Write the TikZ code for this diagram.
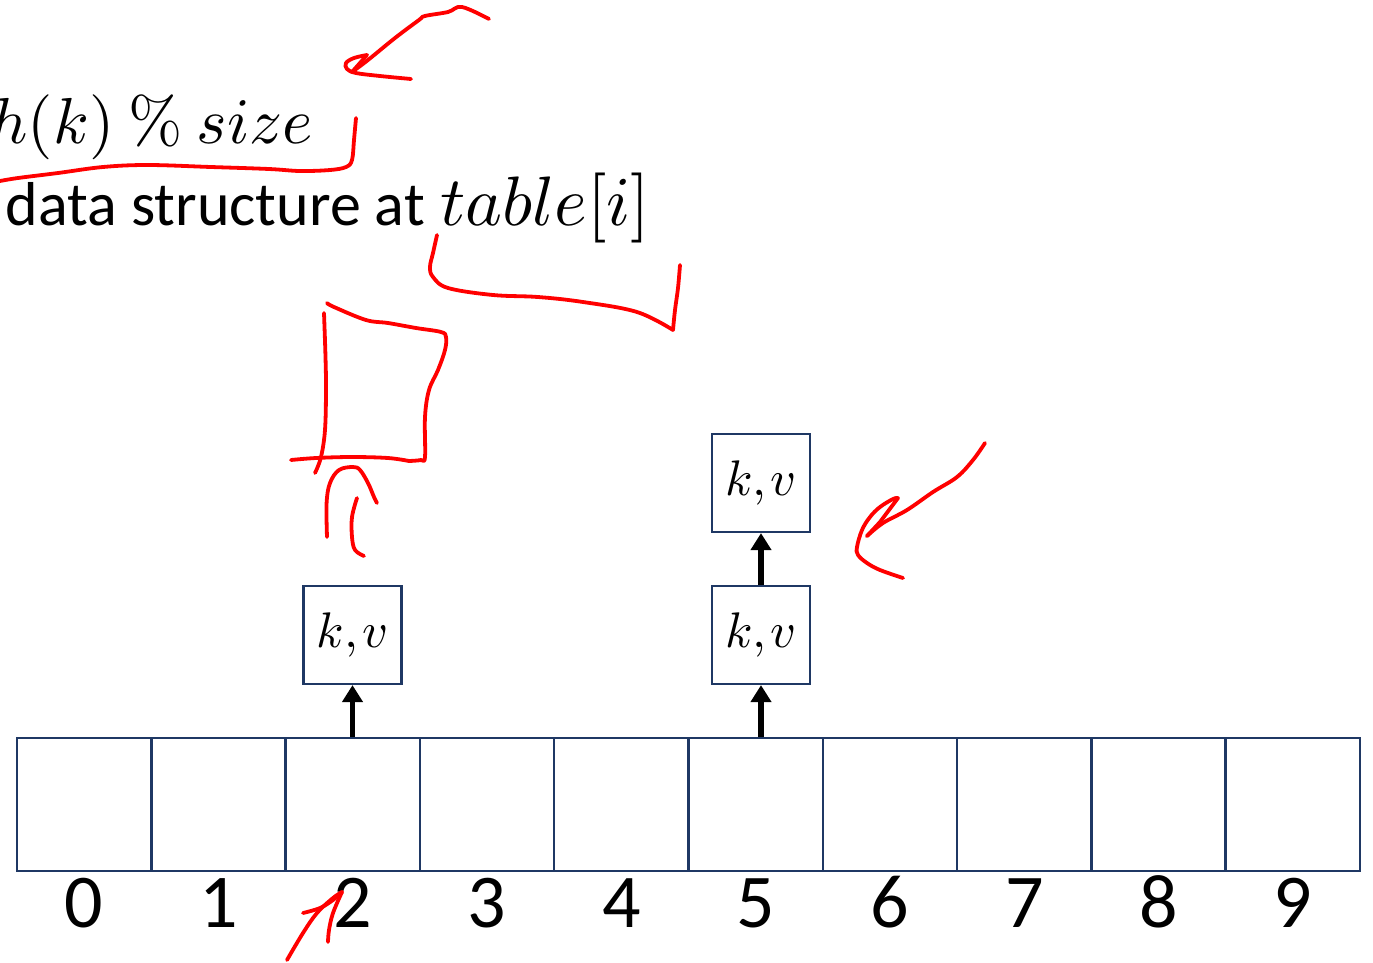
\documentclass[tikz,border=0pt]{standalone}
\usepackage[no-math]{fontspec}
\newfontfamily\calibri{Carlito}
\usetikzlibrary{arrows.meta}
\DeclareFontFamily{OML}{bigcmm}{\skewchar\font'177}
\DeclareFontShape{OML}{bigcmm}{m}{it}{<->cmmi10}{}
\DeclareFontFamily{OT1}{bigcmr}{}
\DeclareFontShape{OT1}{bigcmr}{m}{n}{<->cmr10}{}
\DeclareSymbolFont{letters}{OML}{bigcmm}{m}{it}
\DeclareSymbolFont{operators}{OT1}{bigcmr}{m}{n}
\definecolor{navy}{HTML}{1F3864}
\begin{document}
\begin{tikzpicture}[x=1pt,y=-1pt,
  cell/.style={draw=navy,line width=2.5pt,minimum width=134.3pt,minimum height=133pt,inner sep=0pt},
  kv/.style={draw=navy,line width=2.2pt,fill=white,minimum size=98pt,inner sep=0pt,font=\fontsize{50}{54}\selectfont},
  idx/.style={anchor=base,inner sep=0pt,font=\calibri\fontsize{76}{80}\selectfont},
  arr/.style={line width=5.5pt,-{Triangle[width=20pt,length=17pt]}},
  ink/.style={draw=red,line width=3.8pt,line cap=round,line join=round}]
\useasboundingbox (0,0) rectangle (1373,962);

% hash table cells and indices
\foreach \i in {0,...,9}{
  \node[cell] (c\i) at ({17+134.3*(\i+0.5)},804.5) {};
  \node[idx] (n\i) at ({17+134.3*(\i+0.5)},927) {\i};
}

% chained entries
\node[kv] (b2) at (352.5,635) {$k,v$};
\node[kv] (b5) at (761,635) {$k,v$};
\node[kv] (b5t) at (761,483) {$k,v$};
\draw[arr] (b2.south |- c2.north) -- (b2.south);
\draw[arr] (b5.south |- c5.north) -- (b5.south);
\draw[arr] (b5.north) -- (b5t.south);

% text
\node[anchor=base east,inner sep=0pt,font=\fontsize{65}{70}\selectfont] (hk) at (313,143) {$h(k)\hspace{14pt}\%\hspace{14pt}size$};
\node[anchor=base east,inner sep=0pt,font=\calibri\fontsize{62}{70}\selectfont] (ds) at (425,225) {data structure at};
\node[anchor=base west,inner sep=0pt,font=\fontsize{70}{74}\selectfont] (tb) at (440,225) {$table[i]$};

% red ink annotations
\draw[ink] plot[smooth,tension=0.6] coordinates {(489,19) (462,7) (448,12) (425,16) (419,20) (395,38) (368,60) (352,72)};
\draw[ink] (352,72) -- (367,55);
\draw[ink] plot[smooth,tension=0.6] coordinates {(367,55) (354,58) (346,63) (347,69) (356,73) (380,76) (411,79)};

\draw[ink] plot[smooth,tension=0.6] coordinates {(356,118) (354,140) (352,160) (346,167) (330,170) (300,171) (269,169) (211,167) (148,165) (103,167) (58,173) (18,178) (0,181)};

\draw[ink] plot[smooth,tension=0.6] coordinates {(437,235) (433,253) (430,267) (433,277) (448,288) (493,295) (538,297) (583,302) (637,312) (673,330)};
\draw[ink] plot[smooth,tension=0.6] coordinates {(673,330) (675,310) (678,288) (680,265)};

\draw[ink] plot[smooth,tension=0.6] coordinates {(324,313) (325.5,357) (326,390) (325,430) (321,457) (315,473)};
\draw[ink] plot[smooth,tension=0.6] coordinates {(327,303) (334,307) (366,320) (388,323) (416,328) (441,332) (446,337) (445,350) (438,370) (429,390) (425,417) (425,457) (421,460) (409,461)};
\draw[ink] plot[smooth,tension=0.6] coordinates {(291,460) (316,458) (352,457) (388,458) (409,461)};

\draw[ink] plot[smooth,tension=0.6] coordinates {(327,537) (326.6,503) (330,483) (339,470) (353,467) (360,470) (368,483) (374,497) (377,503)};
\draw[ink] plot[smooth,tension=0.6] coordinates {(357,498) (352,517) (352,537) (355,550) (364,556)};

\draw[ink] plot[smooth,tension=0.6] coordinates {(985,443) (973,460) (957,477) (933,492) (907,510) (883,523) (867,536)};
\draw[ink] (867,536) -- (880,522) -- (898,498);
\draw[ink] plot[smooth,tension=0.6] coordinates {(898,498) (893,499) (880,507) (870,517) (862,530) (857,547) (858,555) (867,563) (880,570) (903,578)};

\draw[ink] plot[smooth,tension=0.6] coordinates {(287,960) (303,933) (317,913) (333,898) (342,892)};
\draw[ink] plot[smooth,tension=0.6] coordinates {(303,913) (320,908) (333,900) (342,892)};
\draw[ink] plot[smooth,tension=0.6] coordinates {(342,892) (333,913) (329,930) (328,942)};
\end{tikzpicture}
\end{document}
